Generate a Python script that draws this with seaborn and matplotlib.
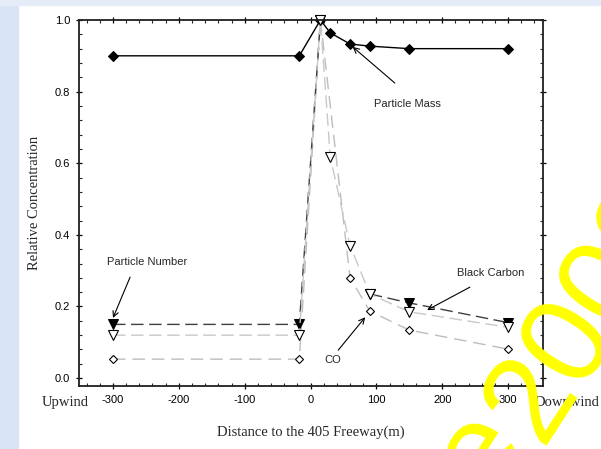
import pandas as pd
import matplotlib
matplotlib.use('Agg')
import matplotlib.pyplot as plt
from matplotlib.patches import Rectangle
from matplotlib.ticker import MultipleLocator
from matplotlib.transforms import blended_transform_factory
import seaborn as sns

# values
mass_x = [-300, -17, 15, 30, 60, 90, 150, 300]
mass_y = [0.90, 0.90, 1.0, 0.964, 0.933, 0.927, 0.92, 0.92]
# black carbon line is broken between the peak and 90 m (only the open triangles show there)
bc_x = [-300, -17, 15, 90, 150, 300]
bc_y = [0.15, 0.15, 1.0, 0.235, 0.21, 0.155]
bc_seg = [0, 0, 0, 1, 1, 1]
pn_x = [-300, -17, 15, 30, 60, 90, 150, 300]
pn_y = [0.12, 0.12, 1.0, 0.617, 0.37, 0.235, 0.185, 0.142]
co_x = [-300, -17, 15, 60, 90, 150, 300]
co_y = [0.053, 0.053, 1.0, 0.28, 0.187, 0.134, 0.081]

x_ticks = [-300, -200, -100, 0, 100, 200, 300]
y_ticks = [0.0, 0.2, 0.4, 0.6, 0.8, 1.0]


def main():
  sns.set_style('ticks')
  plt.rcParams['font.family'] = ['Liberation Sans', 'DejaVu Sans']
  plt.rcParams['axes.unicode_minus'] = False

  fig = plt.figure(figsize=(6.01, 4.49), dpi=100, facecolor='white')
  # pale blue slide background on the left and top edge
  fig.add_artist(Rectangle((0, 0), 18 / 601, 1, transform=fig.transFigure,
                           color='#d9e5f6', zorder=-5))
  fig.add_artist(Rectangle((0, 1 - 5 / 449), 1, 5 / 449, transform=fig.transFigure,
                           color='#e4ecf8', zorder=-5))

  ax = fig.add_axes([79 / 601, 1 - 386 / 449, 464 / 601, 366 / 449])
  ax.set_facecolor('white')

  co = pd.DataFrame({'x': co_x, 'y': co_y})
  pn = pd.DataFrame({'x': pn_x, 'y': pn_y})
  bc = pd.DataFrame({'x': bc_x, 'y': bc_y, 'seg': bc_seg})
  mass = pd.DataFrame({'x': mass_x, 'y': mass_y})

  sns.lineplot(data=co, x='x', y='y', ax=ax, sort=False, color='#bdbdbd', lw=1.0,
               dashes=False, linestyle=(0, (9, 5)), marker='D', markersize=4.5,
               markerfacecolor='white', markeredgecolor='black', markeredgewidth=0.8,
               clip_on=False)
  sns.lineplot(data=mass, x='x', y='y', ax=ax, sort=False, color='black', lw=1.0,
               marker='D', markersize=5, markerfacecolor='black',
               markeredgecolor='black', clip_on=False)
  sns.lineplot(data=bc, x='x', y='y', units='seg', estimator=None, ax=ax, sort=False,
               color='#404040', lw=1.0, dashes=False, linestyle=(0, (9, 4)),
               marker='v', markersize=6.5, markerfacecolor='black',
               markeredgecolor='black', clip_on=False)
  sns.lineplot(data=pn, x='x', y='y', ax=ax, sort=False, color='#c8c8c8', lw=1.0,
               dashes=False, linestyle=(0, (9, 4)), marker='v', markersize=7,
               markerfacecolor='white', markeredgecolor='black', markeredgewidth=0.8,
               clip_on=False)

  ax.set_xlim(-351.6, 353)
  ax.set_ylim(-0.022, 1.0)
  ax.set_xticks(x_ticks)
  ax.set_yticks(y_ticks)
  ax.set_yticklabels(['%.1f' % v for v in y_ticks])
  ax.xaxis.set_minor_locator(MultipleLocator(20))
  ax.yaxis.set_minor_locator(MultipleLocator(0.04))
  ax.tick_params(which='major', direction='inout', length=5, width=0.9,
                 top=True, right=True, labelsize=8, pad=4, colors='black')
  ax.tick_params(which='minor', direction='in', length=2.5, width=0.8,
                 top=True, right=True)
  for s in ax.spines.values():
    s.set_linewidth(1.3)
    s.set_color('#202020')

  serif = ['Liberation Serif', 'DejaVu Serif']
  ax.set_xlabel('Distance to the 405 Freeway(m)', family=serif, fontsize=10.5, labelpad=15)
  ax.set_ylabel('Relative Concentration', family=serif, fontsize=10.5, labelpad=10)

  tr = blended_transform_factory(ax.transData, ax.transAxes)
  ax.text(-373, -0.045, 'Upwind', transform=tr, family=serif, fontsize=10.5,
          ha='center', va='center', clip_on=False)
  ax.text(389, -0.045, 'Downwind', transform=tr, family=serif, fontsize=10.5,
          ha='center', va='center', clip_on=False)

  arrow = dict(arrowstyle='->', color='black', lw=0.8, shrinkA=0, shrinkB=0)
  ax.annotate('', xy=(64, 0.925), xytext=(128, 0.824), arrowprops=arrow)
  ax.text(147, 0.765, 'Particle Mass', fontsize=8, ha='center', va='center')
  ax.annotate('', xy=(-300, 0.168), xytext=(-274, 0.282), arrowprops=arrow)
  ax.text(-248, 0.324, 'Particle Number', fontsize=8, ha='center', va='center')
  ax.annotate('', xy=(177, 0.19), xytext=(242, 0.254), arrowprops=arrow)
  ax.text(273, 0.293, 'Black Carbon', fontsize=8, ha='center', va='center')
  ax.annotate('', xy=(83, 0.17), xytext=(42, 0.078), arrowprops=arrow)
  ax.text(34, 0.05, 'CO', fontsize=8, ha='center', va='center')

  # yellow watermark cut off at the lower right corner
  fig.text(480 / 601, 1 - 452 / 449, 'e', color='#ffff00', fontsize=90,
           rotation=57, rotation_mode='anchor', ha='center', va='center', zorder=10)
  fig.text(514 / 601, 1 - 428 / 449, '2009', color='#ffff00', fontsize=90,
           rotation=57, rotation_mode='anchor', ha='left', va='center', zorder=10)

  fig.savefig('out.png', dpi=100, facecolor='white')


if __name__ == '__main__':
  main()
